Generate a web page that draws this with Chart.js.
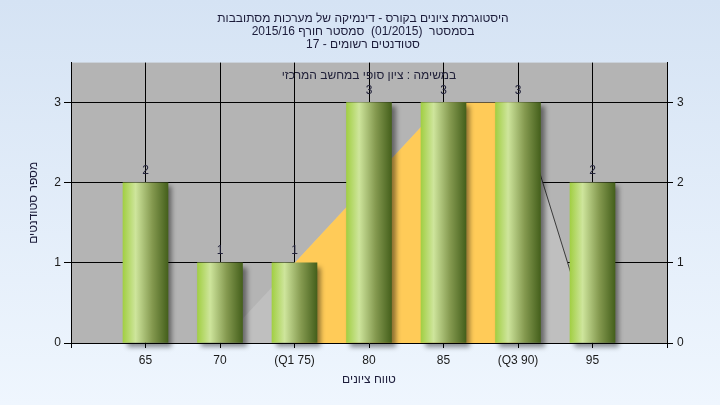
<!DOCTYPE html>
<html>
<head>
<meta charset="utf-8">
<script src="https://cdn.jsdelivr.net/npm/chart.js@4"></script>
<style>
    html, body { margin: 0; padding: 0; }
    #wrap { width: 720px; height: 405px; }
</style>
</head>
<body>
<div id="wrap"><canvas id="gradeChart" dir="rtl" width="720" height="405"></canvas></div>
<script>
// Grade histogram data
const grades = [65, 70, 75, 80, 85, 90, 95];
const gradeLabels = ['65', '70', '(Q1 75)', '80', '85', '(Q3 90)', '95'];
const studentCounts = [2, 1, 1, 3, 3, 3, 2];

// Quartile band (yellow) and spread (light gray) outlines
const quartileX = [75, 85, 90];
const quartileY = [1, 3, 3];
const spreadX = [70, 75, 85, 90, 95];
const spreadY = [0, 1, 3, 3, 0];

const yTicks = [0, 1, 2, 3];
const xTicks = [60, 65, 70, 75, 80, 85, 90, 95, 100];

const titleLines = [
    'היסטוגרמת ציונים בקורס - דינמיקה של מערכות מסתובבות',
    'בסמסטר  (01/2015)  סמסטר חורף 2015/16',
    'סטודנטים רשומים - 17'
];
const plotNote = 'במשימה : ציון סופי במחשב המרכזי';

const fontFamily = "'Liberation Sans', 'DejaVu Sans', sans-serif";

function toPoints(xs, ys) {
    return xs.map((x, i) => ({ x: x, y: ys[i] }));
}

// page + plot backgrounds
const backgroundPlugin = {
    id: 'backgrounds',
    beforeDraw(chart) {
        const { ctx, chartArea, width, height } = chart;
        ctx.save();
        const g = ctx.createLinearGradient(0, 0, 0, height);
        g.addColorStop(0, '#d5e3f4');
        g.addColorStop(1, '#eff6fe');
        ctx.fillStyle = g;
        ctx.fillRect(0, 0, width, height);
        ctx.fillStyle = '#b4b4b4';
        ctx.fillRect(chartArea.left, chartArea.top, chartArea.right - chartArea.left, chartArea.bottom - chartArea.top);
        ctx.restore();
    }
};

// drop shadow behind the bars
const shadowPlugin = {
    id: 'barShadow',
    beforeDatasetDraw(chart, args) {
        if (args.meta.type !== 'bar') return;
        const ctx = chart.ctx;
        ctx.save();
        ctx.shadowColor = 'rgba(0, 0, 0, 0.45)';
        ctx.shadowOffsetX = 4;
        ctx.shadowOffsetY = 4;
        ctx.shadowBlur = 5;
    },
    afterDatasetDraw(chart, args) {
        if (args.meta.type !== 'bar') return;
        chart.ctx.restore();
    }
};

// value labels above bars + note inside the plot
const labelPlugin = {
    id: 'valueLabels',
    afterDatasetsDraw(chart) {
        const ctx = chart.ctx;
        const meta = chart.getDatasetMeta(0);
        ctx.save();
        ctx.font = '12px ' + fontFamily;
        ctx.fillStyle = '#22223a';
        ctx.textAlign = 'center';
        ctx.textBaseline = 'bottom';
        meta.data.forEach((bar, i) => {
            ctx.fillText(String(studentCounts[i]), bar.x, bar.y - 6);
        });
        const area = chart.chartArea;
        ctx.textBaseline = 'middle';
        ctx.fillText(plotNote, (area.left + area.right) / 2, area.top + 13);
        ctx.restore();
    }
};

const ctx = document.getElementById('gradeChart');

new Chart(ctx, {
    type: 'bar',
    data: {
        datasets: [
            {
                type: 'bar',
                data: toPoints(grades, studentCounts),
                order: 0,
                barThickness: 45,
                clip: false,
                backgroundColor: function (context) {
                    const chart = context.chart;
                    if (!chart.chartArea || context.dataIndex === undefined) return '#9ccc3c';
                    const cx = chart.scales.x.getPixelForValue(grades[context.dataIndex]);
                    const g = chart.ctx.createLinearGradient(cx - 22.5, 0, cx + 22.5, 0);
                    g.addColorStop(0, '#a2cf44');
                    g.addColorStop(0.28, '#cee59c');
                    g.addColorStop(0.65, '#84994f');
                    g.addColorStop(1, '#45601c');
                    return g;
                }
            },
            {
                type: 'line',
                data: toPoints(quartileX, quartileY),
                order: 1,
                fill: 'origin',
                backgroundColor: '#ffcb58',
                borderWidth: 0,
                pointRadius: 0,
                tension: 0
            },
            {
                type: 'line',
                data: toPoints(spreadX, spreadY),
                order: 2,
                fill: 'origin',
                backgroundColor: '#bfbfbf',
                borderWidth: 1,
                segment: {
                    borderColor: c => c.p0.parsed.x === 90 ? '#3a3a3a' : 'rgba(0,0,0,0)'
                },
                pointRadius: 0,
                tension: 0
            }
        ]
    },
    options: {
        responsive: false,
        animation: false,
        layout: { padding: { left: 6, right: 0, top: 0, bottom: 0 } },
        plugins: {
            legend: { display: false },
            tooltip: { enabled: false },
            title: {
                display: true,
                text: titleLines,
                color: '#1c1c3a',
                font: { size: 12, family: fontFamily, weight: 'normal', lineHeight: 1.1 },
                padding: { top: 12, bottom: 11 }
            }
        },
        scales: {
            x: {
                type: 'linear',
                min: 60,
                max: 100,
                offset: false,
                afterBuildTicks: axis => { axis.ticks = xTicks.map(v => ({ value: v })); },
                afterFit: axis => { axis.height = 62; },
                ticks: {
                    color: '#1a1a1a',
                    font: { size: 12, family: fontFamily },
                    padding: 5,
                    maxRotation: 0,
                    autoSkip: false,
                    callback: function (value) {
                        const i = grades.indexOf(value);
                        return i >= 0 ? gradeLabels[i] : '';
                    }
                },
                grid: {
                    offset: false,
                    color: c => (c.tick && (c.tick.value === 60 || c.tick.value === 100)) ? 'rgba(0,0,0,0)' : '#000',
                    tickColor: '#000',
                    tickLength: 5,
                    lineWidth: 1
                },
                border: { display: true, color: '#000' },
                title: {
                    display: true,
                    text: 'טווח ציונים',
                    color: '#1c1c3a',
                    font: { size: 12, family: fontFamily },
                    padding: { top: 0, bottom: 18 }
                }
            },
            y: {
                position: 'left',
                min: 0,
                max: 3.5,
                afterBuildTicks: axis => { axis.ticks = yTicks.map(v => ({ value: v })); },
                afterFit: axis => { axis.width = 65; },
                ticks: {
                    color: '#1a1a1a',
                    font: { size: 12, family: fontFamily },
                    padding: 3
                },
                grid: {
                    color: c => (c.tick && c.tick.value === 0) ? 'rgba(0,0,0,0)' : '#000',
                    tickColor: '#000',
                    tickLength: 7
                },
                border: { display: true, color: '#000' },
                title: {
                    display: true,
                    text: 'מספר סטודנטים',
                    color: '#1c1c3a',
                    font: { size: 12, family: fontFamily },
                    padding: { top: 20, bottom: 0 }
                }
            },
            y2: {
                position: 'right',
                min: 0,
                max: 3.5,
                afterBuildTicks: axis => { axis.ticks = yTicks.map(v => ({ value: v })); },
                afterFit: axis => { axis.width = 53; },
                ticks: {
                    color: '#1a1a1a',
                    font: { size: 12, family: fontFamily },
                    padding: 4
                },
                grid: {
                    drawOnChartArea: false,
                    color: '#000',
                    tickColor: '#000',
                    tickLength: 6
                },
                border: { display: true, color: '#000' }
            }
        }
    },
    plugins: [backgroundPlugin, shadowPlugin, labelPlugin]
});
</script>
</body>
</html>
